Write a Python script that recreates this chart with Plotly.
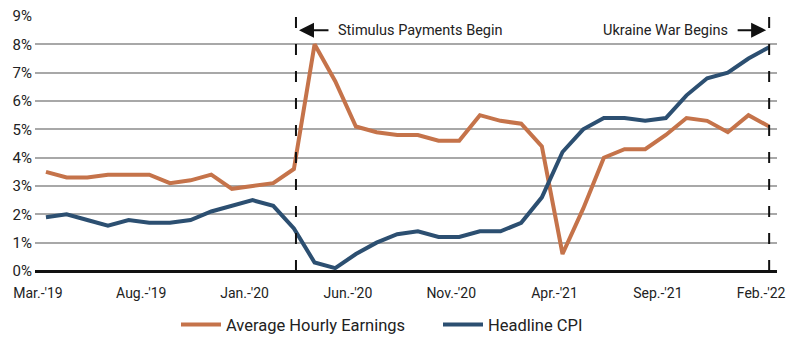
import plotly.graph_objects as go

# Monthly series, March 2019 through February 2022 (year-over-year %, approx.)
months = [
    "Mar.-'19", "Apr.-'19", "May-'19", "Jun.-'19", "Jul.-'19", "Aug.-'19",
    "Sep.-'19", "Oct.-'19", "Nov.-'19", "Dec.-'19", "Jan.-'20", "Feb.-'20",
    "Mar.-'20", "Apr.-'20", "May-'20", "Jun.-'20", "Jul.-'20", "Aug.-'20",
    "Sep.-'20", "Oct.-'20", "Nov.-'20", "Dec.-'20", "Jan.-'21", "Feb.-'21",
    "Mar.-'21", "Apr.-'21", "May-'21", "Jun.-'21", "Jul.-'21", "Aug.-'21",
    "Sep.-'21", "Oct.-'21", "Nov.-'21", "Dec.-'21", "Jan.-'22", "Feb.-'22",
]

hourly_earnings = [
    3.5, 3.3, 3.3, 3.4, 3.4, 3.4, 3.1, 3.2, 3.4, 2.9, 3.0, 3.1,
    3.6, 8.0, 6.7, 5.1, 4.9, 4.8, 4.8, 4.6, 4.6, 5.5, 5.3, 5.2,
    4.4, 0.6, 2.2, 4.0, 4.3, 4.3, 4.8, 5.4, 5.3, 4.9, 5.5, 5.1,
]

headline_cpi = [
    1.9, 2.0, 1.8, 1.6, 1.8, 1.7, 1.7, 1.8, 2.1, 2.3, 2.5, 2.3,
    1.5, 0.3, 0.1, 0.6, 1.0, 1.3, 1.4, 1.2, 1.2, 1.4, 1.4, 1.7,
    2.6, 4.2, 5.0, 5.4, 5.4, 5.3, 5.4, 6.2, 6.8, 7.0, 7.5, 7.9,
]

tick_labels = ["Mar.-'19", "Aug.-'19", "Jan.-'20", "Jun.-'20",
               "Nov.-'20", "Apr.-'21", "Sep.-'21", "Feb.-'22"]
y_ticks = [0, 1, 2, 3, 4, 5, 6, 7, 8, 9]

# Event markers (month index)
stimulus_idx = 12.1
ukraine_idx = 35

ORANGE = "#C5734A"
BLUE = "#2C4F71"
FONT = "Roboto"
INK = "#222222"

x = list(range(len(months)))
tick_pos = [months.index(t) for t in tick_labels]

fig = go.Figure()
fig.add_trace(go.Scatter(
    x=x, y=hourly_earnings, mode="lines", name="Average Hourly Earnings",
    line=dict(color=ORANGE, width=4), customdata=months,
    hovertemplate="%{customdata}: %{y:.1f}%<extra></extra>",
))
fig.add_trace(go.Scatter(
    x=x, y=headline_cpi, mode="lines", name="Headline CPI",
    line=dict(color=BLUE, width=4), customdata=months,
    hovertemplate="%{customdata}: %{y:.1f}%<extra></extra>",
))

for xi in (stimulus_idx, ukraine_idx):
    fig.add_shape(type="line", x0=xi, x1=xi, y0=0, y1=9, xref="x", yref="y",
                  line=dict(color="#111111", width=2, dash="11px,16px"), layer="above")

# Event labels with arrows pointing at the dashed markers
fig.add_annotation(x=stimulus_idx, y=8.5, ax=34, ay=0, xref="x", yref="y",
                   axref="pixel", ayref="pixel", text="", showarrow=True,
                   arrowhead=2, arrowsize=1.5, arrowwidth=2, arrowcolor="#111111",
                   standoff=3)
fig.add_annotation(x=stimulus_idx, y=8.5, xref="x", yref="y", text="Stimulus Payments Begin",
                   showarrow=False, xanchor="left", xshift=40,
                   font=dict(family=FONT, size=14.5, color=INK))
fig.add_annotation(x=ukraine_idx, y=8.5, ax=-33, ay=0, xref="x", yref="y",
                   axref="pixel", ayref="pixel", text="", showarrow=True,
                   arrowhead=2, arrowsize=1.5, arrowwidth=2, arrowcolor="#111111",
                   standoff=3)
fig.add_annotation(x=ukraine_idx, y=8.5, xref="x", yref="y", text="Ukraine War Begins",
                   showarrow=False, xanchor="right", xshift=-39,
                   font=dict(family=FONT, size=14.5, color=INK))

fig.update_layout(
    width=800, height=342,
    margin=dict(l=35, r=23, t=16, b=71, autoexpand=False),
    paper_bgcolor="white", plot_bgcolor="white",
    font=dict(family=FONT, size=14, color=INK),
    showlegend=True,
    legend=dict(orientation="h", xref="container", x=0.22, xanchor="left",
                yref="container", y=0.05, yanchor="middle",
                entrywidth=207, entrywidthmode="pixels",
                font=dict(family=FONT, size=16.5, color=INK),
                itemwidth=40, traceorder="normal"),
    hovermode="x unified",
)

fig.update_xaxes(
    range=[-0.53, 35.38], tickmode="array", tickvals=tick_pos, ticktext=tick_labels,
    showgrid=False, zeroline=False, showline=False, ticks="",
    ticklabelstandoff=12, ticklabelshift=-8,
    tickfont=dict(family=FONT, size=14, color=INK),
)
fig.update_yaxes(
    range=[0, 9], tickmode="array", tickvals=y_ticks,
    ticktext=[f"{v}%" for v in y_ticks],
    showgrid=True, gridcolor="#A8A8A8", gridwidth=1.5,
    zeroline=True, zerolinecolor="#111111", zerolinewidth=3,
    showline=False, ticks="", ticklabelstandoff=2,
    tickfont=dict(family=FONT, size=15, color=INK),
)

fig.write_html("out.html")
